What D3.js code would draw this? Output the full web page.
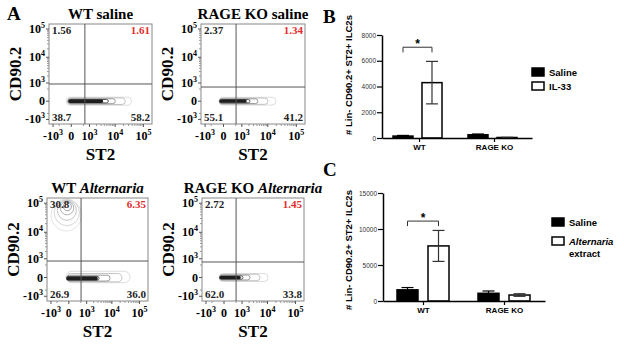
<!DOCTYPE html>
<html>
<head>
<meta charset="utf-8">
<script src="https://cdn.jsdelivr.net/npm/d3@7"></script>
<style>
  body { margin: 0; background: #fff; }
  svg { display: block; }
</style>
</head>
<body>
<svg id="fig" width="624" height="345"></svg>
<script>
// ---------- Panel A data (flow plots) ----------
const flowTicks = [-1000, 0, 1000, 10000, 100000];
const flowMinorTicks = [-500, 500, 2000, 3000, 4000, 5000, 6000, 7000, 8000, 9000,
    20000, 30000, 40000, 50000, 60000, 70000, 80000, 90000];

const flowTitles = ['WT saline', 'RAGE KO saline', 'WT', 'RAGE KO'];
const flowTitlesItalic = ['', '', 'Alternaria', 'Alternaria'];

// quadrant percentages: upper-left, upper-right, lower-left, lower-right
const quadWtSaline = [1.56, 1.61, 38.7, 58.2];
const quadKoSaline = [2.37, 1.34, 55.1, 41.2];
const quadWtAlt = [30.8, 6.35, 26.9, 36.0];
const quadKoAlt = [2.72, 1.45, 62.0, 33.8];

// gate positions (ST2, CD90.2)
const gateSt2 = [600, 520, 520, 500];
const gateCd90 = [900, 640, 790, 710];

// contour levels, outer to inner: [st2 low, st2 high, cd90 low, cd90 high]
const wtSalineCells = [
    [-150, 37500, -115, 115], [-114, 23000, -90, 90], [-82, 10100, -66, 66],
    [-82, 5630, -44, 44], [-52, 3400, -22, 22]
];
const koSalineCells = [
    [-130, 19500, -110, 110], [-120, 10100, -85, 85], [-110, 4390, -62, 62],
    [-100, 2180, -42, 42], [-90, 1500, -20, 20]
];
const wtAltCells = [
    [-78, 45600, -150, 190], [-60, 23500, -120, 110], [-50, 8560, -95, 60],
    [-48, 3290, -72, 30], [-48, 2740, -50, 5]
];
const wtAltIlc = [
    [-997, 560, 11000, 139000], [-700, 420, 17000, 132000], [-470, 260, 26000, 124000],
    [-300, 150, 40000, 116000], [-170, 70, 55000, 108000]
];
const koAltCells = [
    [-150, 10500, -110, 110], [-140, 5300, -85, 85], [-130, 2180, -62, 62],
    [-120, 1100, -42, 42], [-110, 800, -20, 20]
];

// ---------- Panel B data ----------
const groups = ['WT', 'RAGE KO'];
const ilSeries = ['Saline', 'IL-33'];
const ilMeans = [[150, 4300], [250, 40]];
const ilErrors = [[50, 1650], [60, 15]];
const ilTicks = [0, 2000, 4000, 6000, 8000];
const ilBracket = [7050, 6650];

// ---------- Panel C data ----------
const altSeries = ['Saline', 'Alternaria extract'];
const altMeans = [[1550, 7650], [1070, 830]];
const altErrors = [[320, 2150], [320, 180]];
const altTicks = [0, 5000, 10000, 15000];
const altBracket = [11100, 10400];

const yTitle = '# Lin- CD90.2+ ST2+ ILC2s';

const serif = '"Liberation Serif","Times New Roman",serif';
const sans = '"Liberation Sans",Arial,sans-serif';
const svg = d3.select('#fig');

// ---------- Panel A ----------
const flowPanels = [
    { box: [49, 24, 103, 100], quad: quadWtSaline, pops: [{ cells: wtSalineCells, oval: false }] },
    { box: [201, 24, 104, 100], quad: quadKoSaline, pops: [{ cells: koSalineCells, oval: false }] },
    { box: [47, 198, 101, 103], quad: quadWtAlt, pops: [{ cells: wtAltCells, oval: false }, { cells: wtAltIlc, oval: true, faint: true }] },
    { box: [202, 198, 102, 103], quad: quadKoAlt, pops: [{ cells: koAltCells, oval: false }] }
];

const levelStroke = ['#cfcfcf', '#aaaaaa', '#858585', '#555555', '#1e1e1e'];
const faintStroke = ['#d8d8d8', '#c4c4c4', '#ababab', '#939393', '#7a7a7a'];
const levelWidth = [0.7, 0.7, 0.8, 1, 1.6];
const pctFormat = d3.format('.3r');

function tickLabel(sel, v, supSize) {
    if (v === 0) { sel.text('0'); return; }
    const e = Math.round(Math.log10(Math.abs(v)));
    sel.append('tspan').text((v < 0 ? '-' : '') + '10');
    sel.append('tspan').attr('dy', -5).style('font-size', supSize + 'px').text(e);
}

flowPanels.forEach((p, i) => {
    const [bx, by, bw, bh] = p.box;
    const x = d3.scaleSymlog().constant(300).domain([-1500, 200000]).range([bx, bx + bw]);
    const y = d3.scaleSymlog().constant(300).domain([-1580, 150000]).range([by + bh, by]);
    const g = svg.append('g');

    // title
    const t = g.append('text')
        .attr('x', bx + bw / 2).attr('y', by - 5)
        .attr('text-anchor', 'middle')
        .style('font-family', serif).style('font-weight', 'bold').style('font-size', '15px');
    t.append('tspan').text(flowTitles[i] + (flowTitlesItalic[i] ? ' ' : ''));
    if (flowTitlesItalic[i]) t.append('tspan').style('font-style', 'italic').text(flowTitlesItalic[i]);

    // contours
    p.pops.forEach(pop => {
        const strokes = pop.faint ? faintStroke : levelStroke;
        pop.cells.forEach((c, k) => {
            const x0 = x(c[0]), x1 = x(c[1]), y0 = y(c[3]), y1 = y(c[2]);
            const w = x1 - x0, h = y1 - y0;
            const last = k === pop.cells.length - 1;
            g.append('rect')
                .attr('x', x0).attr('y', y0).attr('width', w).attr('height', h)
                .attr('rx', pop.oval ? w / 2 : Math.min(w, h) / 2)
                .attr('ry', pop.oval ? h / 2 : Math.min(w, h) / 2)
                .attr('fill', last && !pop.faint ? '#222' : 'none')
                .attr('stroke', strokes[k])
                .attr('stroke-width', pop.faint ? 0.7 : levelWidth[k]);
        });
    });

    // box
    g.append('rect').attr('x', bx).attr('y', by).attr('width', bw).attr('height', bh)
        .attr('fill', 'none').attr('stroke', '#888').attr('stroke-width', 1);

    // gates
    g.append('line').attr('x1', x(gateSt2[i])).attr('x2', x(gateSt2[i]))
        .attr('y1', by).attr('y2', by + bh).attr('stroke', '#555').attr('stroke-width', 1);
    g.append('line').attr('x1', bx).attr('x2', bx + bw)
        .attr('y1', y(gateCd90[i])).attr('y2', y(gateCd90[i])).attr('stroke', '#555').attr('stroke-width', 1);

    // ticks
    flowTicks.forEach(v => {
        g.append('line').attr('x1', bx - 3).attr('x2', bx).attr('y1', y(v)).attr('y2', y(v)).attr('stroke', '#555');
        g.append('line').attr('x1', x(v)).attr('x2', x(v)).attr('y1', by + bh).attr('y2', by + bh + 3).attr('stroke', '#555');
        g.append('text').attr('x', bx - 4).attr('y', y(v) + 4)
            .attr('text-anchor', 'end')
            .style('font-family', serif).style('font-weight', 'bold').style('font-size', '12px')
            .call(tickLabel, v, 8);
        g.append('text').attr('x', x(v)).attr('y', by + bh + 16)
            .attr('text-anchor', 'middle')
            .style('font-family', serif).style('font-weight', 'bold').style('font-size', '12px')
            .call(tickLabel, v, 8);
    });
    flowMinorTicks.forEach(v => {
        g.append('line').attr('x1', bx - 2).attr('x2', bx).attr('y1', y(v)).attr('y2', y(v)).attr('stroke', '#999');
        g.append('line').attr('x1', x(v)).attr('x2', x(v)).attr('y1', by + bh).attr('y2', by + bh + 2).attr('stroke', '#999');
    });

    // axis titles
    g.append('text').attr('x', bx + bw / 2).attr('y', by + bh + 36)
        .attr('text-anchor', 'middle')
        .style('font-family', serif).style('font-weight', 'bold').style('font-size', '17px')
        .text('ST2');
    g.append('text')
        .attr('transform', `translate(${bx - 28},${by + bh / 2}) rotate(-90)`)
        .attr('text-anchor', 'middle')
        .style('font-family', serif).style('font-weight', 'bold').style('font-size', '17px')
        .text('CD90.2');

    // quadrant numbers
    const qpos = [
        [bx + 3, by + 10, 'start'], [bx + bw - 2, by + 10, 'end'],
        [bx + 3, by + bh - 3, 'start'], [bx + bw - 2, by + bh - 3, 'end']
    ];
    p.quad.forEach((v, k) => {
        g.append('text').attr('x', qpos[k][0]).attr('y', qpos[k][1])
            .attr('text-anchor', qpos[k][2])
            .attr('fill', k === 1 ? '#e32b2b' : '#222')
            .style('font-family', serif).style('font-weight', 'bold').style('font-size', '11px')
            .text(pctFormat(v));
    });
});

// ---------- Bar charts ----------
function drawBars(cfg) {
    const g = svg.append('g');
    const y = d3.scaleLinear().domain([0, cfg.ticks[cfg.ticks.length - 1]]).range(cfg.yRange);
    const x0 = d3.scaleBand().domain(groups).range(cfg.xRange);
    const x1 = d3.scaleBand().domain(cfg.series).range(cfg.inner).paddingInner(cfg.pad);

    // bars
    groups.forEach((grp, gi) => {
        cfg.series.forEach((s, si) => {
            const m = cfg.means[gi][si], e = cfg.errors[gi][si];
            const cx = x0(grp) + x1(s) + x1.bandwidth() / 2;
            g.append('rect')
                .attr('x', x0(grp) + x1(s)).attr('y', y(m))
                .attr('width', x1.bandwidth()).attr('height', y(0) - y(m))
                .attr('fill', si === 0 ? '#000' : '#fff')
                .attr('stroke', '#000').attr('stroke-width', 1.5);
            g.append('line').attr('x1', cx).attr('x2', cx).attr('y1', y(m - e)).attr('y2', y(m + e))
                .attr('stroke', si === 0 ? '#000' : '#333').attr('stroke-width', 1.2);
            [m - e, m + e].forEach(v => {
                g.append('line').attr('x1', cx - 6).attr('x2', cx + 6).attr('y1', y(v)).attr('y2', y(v))
                    .attr('stroke', si === 0 ? '#000' : '#333').attr('stroke-width', 1.2);
            });
        });
    });

    // significance bracket on WT
    const bl = x0('WT') + x1(cfg.series[0]) + x1.bandwidth() / 2;
    const br = x0('WT') + x1(cfg.series[1]) + x1.bandwidth() / 2;
    g.append('path')
        .attr('d', `M${bl},${y(cfg.bracket[1])}V${y(cfg.bracket[0])}H${br}V${y(cfg.bracket[1])}`)
        .attr('fill', 'none').attr('stroke', '#333').attr('stroke-width', 1);
    g.append('text').attr('x', (bl + br) / 2).attr('y', y(cfg.bracket[0]) + 1)
        .attr('text-anchor', 'middle')
        .style('font-family', sans).style('font-weight', 'bold').style('font-size', '12px')
        .text('*');

    // axes
    const ya = g.append('g').attr('transform', `translate(${cfg.xRange[0]},0)`)
        .call(d3.axisLeft(y).tickValues(cfg.ticks).tickSize(5).tickSizeOuter(0).tickFormat(d3.format('d')));
    ya.select('.domain').attr('stroke-width', 1.5);
    ya.selectAll('.tick line').attr('stroke-width', 1.2);
    ya.selectAll('.tick text').attr('x', -6).attr('fill', '#333')
        .style('font-family', sans).style('font-size', '6.5px');

    const xa = g.append('g').attr('transform', `translate(0,${cfg.yRange[0]})`)
        .call(d3.axisBottom(x0).tickSize(4).tickSizeOuter(0));
    xa.select('.domain').attr('stroke-width', 1.5);
    xa.selectAll('.tick line').attr('stroke-width', 1.2);
    xa.selectAll('.tick text').attr('y', 6)
        .style('font-family', sans).style('font-weight', 'bold').style('font-size', '8px');

    // y title
    g.append('text')
        .attr('transform', `translate(352,${cfg.titleY}) rotate(-90)`)
        .attr('text-anchor', 'middle')
        .style('font-family', sans).style('font-weight', 'bold').style('font-size', '9.5px')
        .text(yTitle);

    // legend
    const lg = g.append('g').attr('transform', `translate(${cfg.legend[0]},${cfg.legend[1]})`);
    cfg.series.forEach((s, si) => {
        const yy = si * cfg.legendStep;
        lg.append('rect').attr('x', 0).attr('y', yy).attr('width', 12).attr('height', 8)
            .attr('fill', si === 0 ? '#000' : '#fff').attr('stroke', '#000').attr('stroke-width', 1.5);
        const words = s.split(' ');
        words.forEach((w, wi) => {
            lg.append('text').attr('x', 17).attr('y', yy + 8 + wi * 12)
                .style('font-family', sans).style('font-weight', 'bold').style('font-size', '9.5px')
                .style('font-style', w === 'Alternaria' ? 'italic' : 'normal')
                .text(w);
        });
    });
}

drawBars({
    series: ilSeries, means: ilMeans, errors: ilErrors, ticks: ilTicks, bracket: ilBracket,
    yRange: [138, 35], xRange: [382, 532], inner: [11, 60], pad: 0.31,
    titleY: 75, legend: [532, 68], legendStep: 14
});
drawBars({
    series: altSeries, means: altMeans, errors: altErrors, ticks: altTicks, bracket: altBracket,
    yRange: [301, 193], xRange: [383, 545], inner: [14, 66], pad: 0.323,
    titleY: 250, legend: [552, 218], legendStep: 19
});

// panel letters
[['A', 7, 20], ['B', 323, 23], ['C', 323, 176]].forEach(([l, lx, ly]) => {
    svg.append('text').attr('x', lx).attr('y', ly)
        .style('font-family', serif).style('font-weight', 'bold').style('font-size', '19px')
        .text(l);
});
</script>
</body>
</html>
